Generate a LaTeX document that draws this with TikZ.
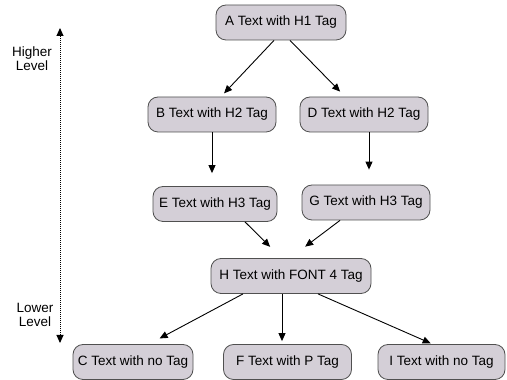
\documentclass[tikz,border=0pt]{standalone}
\usepackage{fontspec}
\setmainfont{Liberation Sans}
\usetikzlibrary{arrows.meta}
\definecolor{boxfill}{RGB}{212,207,215}
\definecolor{boxline}{RGB}{80,80,80}
\begin{document}
\begin{tikzpicture}[x=1pt,y=1pt,
  tagbox/.style={draw=boxline, fill=boxfill, line width=0.8pt, rounded corners=10pt,
    minimum height=35pt, inner sep=0pt, font=\fontsize{13.5}{15}\selectfont},
  arr/.style={-{Triangle[length=8pt,width=7pt]}, line width=0.9pt, black},
  lvl/.style={align=center, font=\fontsize{13.5}{14}\selectfont}]
\useasboundingbox (0,0) rectangle (507,380);

% tree nodes
\node[tagbox, minimum width=130pt] (A) at (281,357.5) {A Text with H1 Tag};
\node[tagbox, minimum width=128pt] (B) at (212,265.5) {B Text with H2 Tag};
\node[tagbox, minimum width=128pt] (D) at (364,265.5) {D Text with H2 Tag};
\node[tagbox, minimum width=124pt] (E) at (215,176) {E Text with H3 Tag};
\node[tagbox, minimum width=128pt] (G) at (366,177.5) {G Text with H3 Tag};
\node[tagbox, minimum width=160pt] (H) at (291,104) {H Text with FONT 4 Tag};
\node[tagbox, minimum width=120pt] (C) at (133,18) {C Text with no Tag};
\node[tagbox, minimum width=128pt] (F) at (287.5,18) {F Text with P Tag};
\node[tagbox, minimum width=127pt] (I) at (441.5,18) {I Text with no Tag};

% connectors
\draw[arr, shorten >=4.5pt] ([xshift=-7pt]A.south) -- ([xshift=9pt]B.north);
\draw[arr, shorten >=7pt] ([xshift=9pt]A.south) -- ([xshift=-19pt]D.north);
\draw[arr, shorten >=13pt] (B.south) -- (B.south |- E.north);
\draw[arr, shorten >=15pt] ([xshift=5pt]D.south) -- ([xshift=5pt]D.south |- G.north);
\draw[arr, shorten >=16pt] ([xshift=30pt]E.south) -- ([xshift=-9.5pt]H.north);
\draw[arr, shorten >=19pt] ([xshift=-26pt]G.south) -- ([xshift=-1pt]H.north);
\draw[arr, shorten >=12pt] ([xshift=-48pt]H.south) -- ([xshift=16pt]C.north);
\draw[arr, shorten >=3pt] ([xshift=-9pt]H.south) -- ([xshift=-9pt]H.south |- F.north);
\draw[arr, shorten >=2pt] ([xshift=27pt]H.south) -- ([xshift=-9pt]I.north);

% level scale
\coordinate (hi) at (60,352);
\coordinate (lo) at (60,37);
\draw[{Triangle[length=8pt,width=7pt]}-{Triangle[length=8pt,width=7pt]},
  line width=0.9pt, dash pattern=on 1pt off 1pt] (lo) -- (hi);
\node[lvl] (higher) at (32,321.5) {Higher\\Level};
\node[lvl] (lower) at (35,65.5) {Lower\\Level};
\end{tikzpicture}
\end{document}
